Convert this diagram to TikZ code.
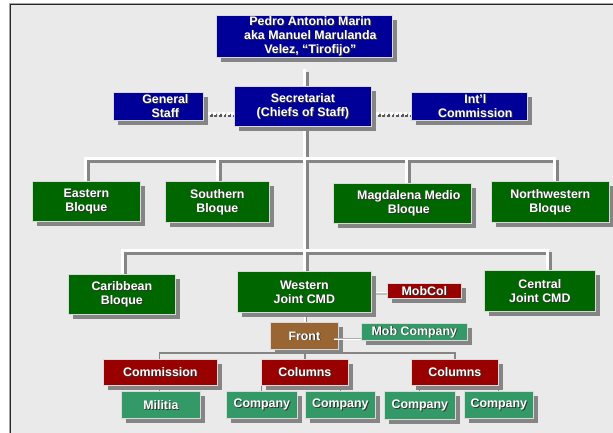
\documentclass[tikz,border=0pt]{standalone}
\usepackage{fontspec}
\setmainfont{Liberation Sans}
\usetikzlibrary{shadows,calc}
\definecolor{navy}{HTML}{000099}
\definecolor{dgreen}{HTML}{006600}
\definecolor{dred}{HTML}{990000}
\definecolor{brownbox}{HTML}{996633}
\definecolor{seagr}{HTML}{339966}
\definecolor{shgray}{HTML}{858585}
\definecolor{bgc}{HTML}{EAEAEA}
\definecolor{txtsh}{HTML}{333333}
\pgfdeclarelayer{bg}
\pgfdeclarelayer{lines}
\pgfsetlayers{bg,lines,main}
\newcommand\ts[1]{\rlap{\smash{\kern0.9pt\raisebox{-0.9pt}{\textcolor{txtsh}{#1}}}}#1}
\newcommand\heavyconn[1]{%
  \draw[#1] ($(pedro.south -| tx)+(0,11)$) -- (secr.north -| tx);
  \draw[#1] (secr.south -| tx) -- (western.north -| tx);
  \draw[#1] (eastern.north -| b1l) -- (b1l) -- (b1r) -- (northwest.north -| b1r);
  \draw[#1] (b1s) -- (southern.north -| b1s);
  \draw[#1] (b1m) -- (magdalena.north -| b1m);
  \draw[#1] (caribbean.north -| b2l) -- (b2l) -- (b2r) -- (central.north -| b2r);
}
\begin{document}
\begin{tikzpicture}[x=1pt,y=-1pt,
  box/.style={draw=white!85!black, line width=0.7pt, inner sep=0pt, anchor=north west,
    text=white, font=\fontsize{12.4}{14}\selectfont\bfseries, align=center,
    drop shadow={shadow xshift=4.5pt, shadow yshift=-4.5pt, fill=shgray, opacity=1}},
  hs/.style={draw=shgray, line width=3.5pt, line join=miter, transform canvas={shift={(3pt,-3pt)}}},
  hw/.style={draw=white, line width=3pt, line join=miter},
  tl/.style={draw=shgray, line width=1.2pt},
  ms/.style={draw=shgray, line width=2pt, transform canvas={shift={(1.5pt,-1.5pt)}}},
  mw/.style={draw=white, line width=2pt},
  dots/.style={draw=white, line width=3pt, dash pattern=on 2.8pt off 1.8pt},
  dotsh/.style={draw=black!65, line width=3pt, dash pattern=on 2.8pt off 1.8pt, transform canvas={shift={(1.4pt,-1.6pt)}}}]
\useasboundingbox (0,0) rectangle (613,433);
\begin{pgfonlayer}{bg}
  \fill[white] (0,0) rectangle (613,433);
  \fill[bgc] (10.5,4.5) rectangle (613,433);
  \draw[black!35, line width=0.8pt] (9,433) -- (9,3) -- (613,3);
  \draw[black!85, line width=1.2pt] (10.5,433) -- (10.5,4.5) -- (613,4.5);
\end{pgfonlayer}

% coordinates
\coordinate (tx) at (304.5,0);
\coordinate (b1l) at (85.5,158.5);
\coordinate (b1r) at (554.5,158.5);
\coordinate (b1s) at (217,158.5);
\coordinate (b1m) at (406,158.5);
\coordinate (b2l) at (122,250.5);
\coordinate (b2r) at (547,250.5);
\coordinate (tbl) at (159.5,353);
\coordinate (tbr) at (455,353);
\coordinate (fx) at (305,0);

% boxes
\node[box,fill=navy,minimum width=176pt,minimum height=42pt] (pedro) at (216,15)
  {\hspace*{12pt}\ts{Pedro Antonio Marin}\\\hspace*{12pt}\ts{aka Manuel Marulanda}\\\hspace*{12pt}\ts{Velez, “Tirofijo”}};
\node[box,fill=navy,minimum width=90pt,minimum height=28pt] (gstaff) at (113,92)
  {\hspace*{14pt}\ts{General}\\\hspace*{14pt}\ts{Staff}};
\node[box,fill=navy,minimum width=137pt,minimum height=40pt] (secr) at (234,86)
  {\ts{Secretariat}\\\ts{(Chiefs of Staff)}};
\node[box,fill=navy,minimum width=116pt,minimum height=28pt] (intl) at (411,92)
  {\hspace*{12pt}\ts{Int’l}\\\hspace*{12pt}\ts{Commission}};

\node[box,fill=dgreen,minimum width=108pt,minimum height=40pt] (eastern) at (32,181) {\ts{Eastern}\\\ts{Bloque}};
\node[box,fill=dgreen,minimum width=104pt,minimum height=41pt] (southern) at (165,181) {\ts{Southern}\\\ts{Bloque}};
\node[box,fill=dgreen,minimum width=138pt,minimum height=40pt] (magdalena) at (333,183)
  {\hspace*{13pt}\ts{Magdalena Medio}\\\hspace*{13pt}\ts{Bloque}};
\node[box,fill=dgreen,minimum width=118pt,minimum height=41pt] (northwest) at (491,181) {\ts{Northwestern}\\\ts{Bloque}};

\node[box,fill=dgreen,minimum width=107pt,minimum height=40pt] (caribbean) at (68,274) {\ts{Caribbean}\\\ts{Bloque}};
\node[box,fill=dgreen,minimum width=134pt,minimum height=41pt] (western) at (237,271) {\ts{Western}\\\ts{Joint CMD}};
\node[box,fill=dred,minimum width=74pt,minimum height=15pt] (mobcol) at (387,283) {\ts{MobCol}};
\node[box,fill=dgreen,minimum width=111pt,minimum height=41pt] (central) at (484,270) {\ts{Central}\\\ts{Joint CMD}};

\node[box,fill=brownbox,minimum width=68pt,minimum height=27pt] (front) at (270,322) {\ts{Front}};
\node[box,fill=seagr,minimum width=106pt,minimum height=17pt] (mobco) at (361,323) {\ts{Mob Company}};

\node[box,fill=dred,minimum width=114pt,minimum height=26pt] (commission) at (103,359) {\ts{Commission}};
\node[box,fill=dred,minimum width=87pt,minimum height=26pt] (columns1) at (261,359) {\ts{Columns}};
\node[box,fill=dred,minimum width=87pt,minimum height=26pt] (columns2) at (411,359) {\ts{Columns}};

\node[box,fill=seagr,minimum width=79pt,minimum height=27pt] (militia) at (121,391) {\ts{Militia}};
\node[box,fill=seagr,minimum width=71pt,minimum height=27pt] (company1) at (226,391) {\ts{Company}};
\node[box,fill=seagr,minimum width=70pt,minimum height=27pt] (company2) at (305,391) {\ts{Company}};
\node[box,fill=seagr,minimum width=71pt,minimum height=28pt] (company3) at (384,391) {\ts{Company}};
\node[box,fill=seagr,minimum width=69pt,minimum height=27pt] (company4) at (464,391) {\ts{Company}};

% connectors
\begin{pgfonlayer}{lines}
  \heavyconn{hs}
  \heavyconn{hw}
  % dotted staff links
  \draw[dotsh] ($(gstaff.east)+(0,7.5)$) -- ($(secr.west)+(0,7.5)$);
  \draw[dots] ($(gstaff.east)+(0,7.5)$) -- ($(secr.west)+(0,7.5)$);
  \draw[dotsh] ($(secr.east)+(0,7.5)$) -- ($(intl.west)+(0,7.5)$);
  \draw[dots] ($(secr.east)+(0,7.5)$) -- ($(intl.west)+(0,7.5)$);
  % western to front, western to mobcol
  \draw[ms] (western.south -| tx) -- (front.north -| tx);
  \draw[mw] (western.south -| tx) -- (front.north -| tx);
  \draw[black!25, line width=2.6pt] ($(western.east |- mobcol.west)+(0,3)$) -- ($(mobcol.west)+(0,3)$);
  \draw[white, line width=1pt] ($(western.east |- mobcol.west)+(0,2)$) -- ($(mobcol.west)+(0,2)$);
  % lower tree
  \draw[tl] (commission.north -| tbl) -- (tbl) -- (tbr) -- (columns2.north -| tbr);
  \draw[tl] (front.south -| fx) -- (columns1.north -| fx);
  \draw[tl] (commission.south -| tbl) -- (militia.north -| tbl);
  \draw[tl] (columns1.south -| company1.north) -- (company1.north);
  \draw[tl] (columns1.south -| company2.north) -- (company2.north);
  \draw[tl] (columns2.south -| company3.north) -- (company3.north);
  \draw[tl] (columns2.south -| company4.north) -- (company4.north);
\end{pgfonlayer}
% front to mob company (drawn over the front box)
\coordinate (mc) at ($(mobco.south west)+(0,-1)$);
\draw[shgray!70, line width=1.4pt, transform canvas={shift={(0pt,1.2pt)}}] ($(front.east |- mc)+(-5,0)$) -- (mc);
\draw[white, line width=1.4pt] ($(front.east |- mc)+(-5,0)$) -- (mc);
\end{tikzpicture}
\end{document}
